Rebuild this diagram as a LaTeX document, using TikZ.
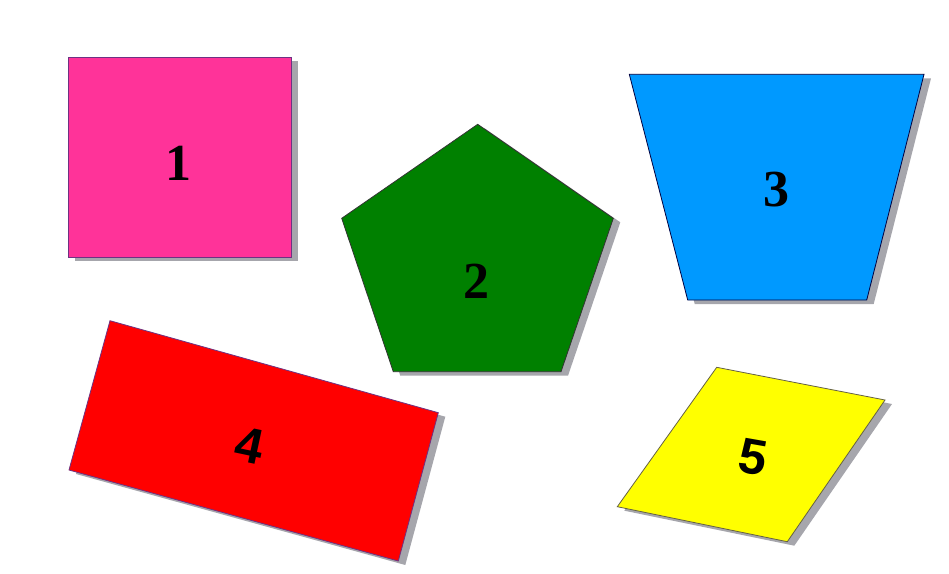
\documentclass[tikz,border=0pt]{standalone}
\usepackage{fontspec}
\setmainfont{Liberation Serif}
\setsansfont{Liberation Sans}
\definecolor{pinkA}{RGB}{255,51,153}
\definecolor{greenA}{RGB}{0,128,0}
\definecolor{blueA}{RGB}{0,153,255}
\definecolor{redA}{RGB}{255,0,0}
\definecolor{yellowA}{RGB}{255,255,0}
\definecolor{shadowA}{RGB}{166,166,172}
\definecolor{lineP}{RGB}{110,50,130}
\tikzset{
  shapeshadow/.style={fill=shadowA, draw=none, shift={(7,4)}},
  shapebody/.style={line width=0.8pt, line join=miter},
  numlabel/.style={font=\fontsize{52}{60}\selectfont\bfseries, inner sep=0pt},
  numlabelsans/.style={font=\fontsize{50}{58}\selectfont\sffamily\bfseries, inner sep=0pt}
}
\begin{document}
\begin{tikzpicture}[x=1pt,y=-1pt]
\useasboundingbox (0,0) rectangle (949,573);
% shape 1: square
\fill[shapeshadow] (68,57) rectangle (291,257);
\draw[shapebody, fill=pinkA, draw=lineP] (68,57) rectangle (291,257);
\node[numlabel] (n1) at (178,163) {1};
% shape 2: pentagon
\fill[shapeshadow] (477.7,124.3) -- (613.3,218.3) -- (561,371.7) -- (393.3,371.7) -- (341.7,218.3) -- cycle;
\draw[shapebody, fill=greenA, draw=black!80] (477.7,124.3) -- (613.3,218.3) -- (561,371.7) -- (393.3,371.7) -- (341.7,218.3) -- cycle;
\node[numlabel] (n2) at (476.7,281) {2};
% shape 3: trapezoid
\fill[shapeshadow] (629.3,74.3) -- (924,74.3) -- (866.7,300) -- (687.7,300) -- cycle;
\draw[shapebody, fill=blueA, draw=black!75!blue] (629.3,74.3) -- (924,74.3) -- (866.7,300) -- (687.7,300) -- cycle;
\node[numlabel] (n3) at (776,190) {3};
% shape 4: rotated rectangle
\fill[shapeshadow] (110,320.7) -- (438.3,412.7) -- (398.3,561) -- (69,470) -- cycle;
\draw[shapebody, fill=redA, draw=lineP] (110,320.7) -- (438.3,412.7) -- (398.3,561) -- (69,470) -- cycle;
\node[numlabelsans, rotate=-12] (n4) at (250,446) {4};
% shape 5: rhombus
\fill[shapeshadow] (716.7,367.3) -- (885,400) -- (787.3,541.7) -- (617.3,506.7) -- cycle;
\draw[shapebody, fill=yellowA, draw=black!70!yellow] (716.7,367.3) -- (885,400) -- (787.3,541.7) -- (617.3,506.7) -- cycle;
\node[numlabelsans, rotate=-10] (n5) at (753,457) {5};
\end{tikzpicture}
\end{document}
